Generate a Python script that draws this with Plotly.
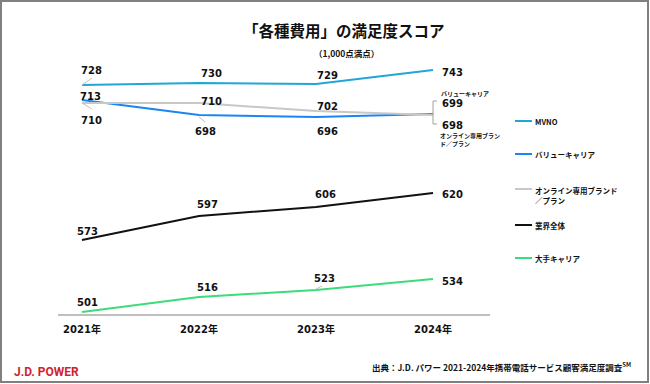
import plotly.graph_objects as go

# ---------------- data ----------------
years = ["2021年", "2022年", "2023年", "2024年"]
series_names = ["MVNO", "バリューキャリア", "オンライン専用ブランド／プラン", "業界全体", "大手キャリア"]
mvno = [728, 730, 729, 743]
value_carrier = [713, 698, 696, 699]
online_brand = [710, 710, 702, 698]
industry = [573, 597, 606, 620]
major_carrier = [501, 516, 523, 534]

title_text = "「各種費用」の満足度スコア"
subtitle_text = "（1,000点満点）"
source_text = "出典：J.D. パワー 2021-2024年携帯電話サービス顧客満足度調査<sup>SM</sup>"

# ---------------- styles / layout ----------------
W, H = 650, 384
L, R, T, B = 58, 160, 40, 70
pw, ph = W - L - R, H - T - B
XPX = pw / (3.487 + 0.205)  # pixels per category step


def px(x):
    return (x - L) / pw


def py(y):
    return (H - B - y) / ph


colors = ["#22a6d6", "#1a86f2", "#c8c8c8", "#111111", "#3ddc7a"]
values = [mvno, value_carrier, online_brand, industry, major_carrier]
NUM_FONT = "DejaVu Sans, Noto Sans CJK JP"
JP_FONT = "Noto Sans CJK JP, DejaVu Sans"

# label offsets (xshift, yshift) in pixels for each point
offsets = [
    [(10, 15), (12, 10), (11, 9), (7, -2)],
    [(9, 4), (6, -16), (11, -14), (7, 11)],
    [(10, -17), (12, 2), (11, 5), (7, -10)],
    [(6, 9), (8, 12), (9, 13), (7, -1)],
    [(6, 10), (8, 10), (8, 12), (7, -2)],
]

x = list(range(len(years)))
fig = go.Figure()
for name, vals, col in zip(series_names, values, colors):
    fig.add_trace(go.Scatter(x=x, y=vals, mode="lines", name=name,
                             line=dict(color=col, width=2), showlegend=False,
                             hoverinfo="x+y+name"))

annotations = []
for vals, offs in zip(values, offsets):
    for i, (v, (dx, dy)) in enumerate(zip(vals, offs)):
        last = i == len(vals) - 1
        annotations.append(dict(
            x=i, y=v, xref="x", yref="y", text=f"<b>{v}</b>", showarrow=False,
            xanchor="left" if last else "center", yanchor="middle",
            xshift=dx, yshift=dy,
            font=dict(family=NUM_FONT, size=10, color="#111111")))

# callout labels at 2024
annotations.append(dict(x=3, y=value_carrier[3], xref="x", yref="y",
                        text="<b>バリューキャリア</b>", showarrow=False,
                        xanchor="left", yanchor="middle", xshift=6, yshift=21,
                        font=dict(family=JP_FONT, size=6, color="#111111")))
annotations.append(dict(x=3, y=online_brand[3], xref="x", yref="y",
                        text="<b>オンライン専用ブラン<br>ド／プラン</b>", showarrow=False,
                        xanchor="left", yanchor="top", xshift=5, yshift=-14,
                        align="left",
                        font=dict(family=JP_FONT, size=6, color="#111111")))

# title / subtitle
annotations.append(dict(x=px(344), y=py(30), xref="paper", yref="paper",
                        text=f"<b>{title_text}</b>", showarrow=False,
                        xanchor="center", yanchor="middle",
                        font=dict(family=JP_FONT, size=15.5, color="#111111")))
annotations.append(dict(x=px(346), y=py(53), xref="paper", yref="paper",
                        text=f"<b>{subtitle_text}</b>", showarrow=False,
                        xanchor="center", yanchor="middle",
                        font=dict(family=JP_FONT, size=8.5, color="#111111")))

# footer
annotations.append(dict(x=px(12), y=py(372), xref="paper", yref="paper",
                        text="<b>J.D. POWER</b>", showarrow=False,
                        xanchor="left", yanchor="middle",
                        font=dict(family="Roboto, Liberation Sans", size=12, color="#d11f2f")))
annotations.append(dict(x=px(633), y=py(366), xref="paper", yref="paper",
                        text=f"<b>{source_text}</b>", showarrow=False,
                        xanchor="right", yanchor="middle",
                        font=dict(family=JP_FONT, size=8.5, color="#111111")))

# manual legend
legend_y = [121, 154, 189, 225, 258]
legend_text = ["MVNO", "バリューキャリア", "オンライン専用ブランド<br>／プラン", "業界全体", "大手キャリア"]
shapes = []
for ly, lt, col in zip(legend_y, legend_text, colors):
    shapes.append(dict(type="line", xref="paper", yref="paper",
                       x0=px(515), x1=px(532), y0=py(ly), y1=py(ly),
                       line=dict(color=col, width=2)))
    annotations.append(dict(x=px(533), y=py(ly), xref="paper", yref="paper",
                            text=f"<b>{lt}</b>", showarrow=False,
                            xanchor="left", yanchor="top" if "<br>" in lt else "middle",
                            yshift=6 if "<br>" in lt else 0,
                            align="left",
                            font=dict(family=JP_FONT, size=7.5, color="#111111")))

# leader lines (data coords derived from values)
lead_col = "#c0c0c0"
leaders = [
    (0, mvno[0], 10, 7),
    (0, online_brand[0], 10, -6),
    (1, value_carrier[1] - 2, 6, -5),
    (2, major_carrier[2] + 1, 6, 3),
]
for xi, yv, dxp, dyp in leaders:
    shapes.append(dict(type="line", xref="x", yref="y",
                       x0=xi, y0=yv, x1=xi + dxp / XPX, y1=yv + dyp,
                       line=dict(color=lead_col, width=1)))

# bracket at 2024
b_top = value_carrier[3] + 13
b_bot = online_brand[3] - 9
br_col = "#a0a0a0"
shapes.append(dict(type="line", xref="x", yref="y", x0=3, x1=3, y0=b_bot, y1=b_top,
                   line=dict(color=br_col, width=1)))
for yy in (b_top, b_bot):
    shapes.append(dict(type="line", xref="x", yref="y", x0=3, x1=3 + 4 / XPX, y0=yy, y1=yy,
                       line=dict(color=br_col, width=1)))

# outer border
shapes.append(dict(type="rect", xref="paper", yref="paper",
                   x0=px(1), x1=px(648), y0=py(382), y1=py(1),
                   line=dict(color="#808080", width=2), layer="below"))

fig.update_layout(
    width=W, height=H,
    margin=dict(l=L, r=R, t=T, b=B, pad=0),
    paper_bgcolor="white", plot_bgcolor="white",
    showlegend=False,
    annotations=annotations,
    shapes=shapes,
    xaxis=dict(range=[-0.205, 3.487], tickvals=x,
               ticktext=[f"<b>{y}</b>" for y in years],
               showgrid=False, zeroline=False, showline=True,
               linecolor="#bfbfbf", linewidth=2,
               ticks="outside", ticklen=5, tickcolor="rgba(0,0,0,0)",
               tickfont=dict(family=NUM_FONT, size=10, color="#111111"),
               fixedrange=True),
    yaxis=dict(range=[499, 773], visible=False, showgrid=False, zeroline=False,
               fixedrange=True),
)

fig.write_html("out.html",
               config={"displayModeBar": False},
               post_script="document.body.style.margin='0';document.body.style.padding='0';")
